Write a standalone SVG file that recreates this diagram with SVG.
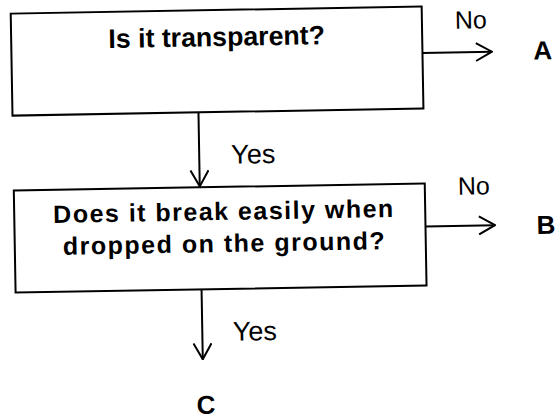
<svg xmlns="http://www.w3.org/2000/svg" width="556" height="419" viewBox="0 0 556 419">
  <style>
    .box { fill: #ffffff; stroke: #000000; stroke-width: 2; }
    .q { font-family: "Liberation Sans", Arial, sans-serif; font-weight: bold; font-size: 25px; fill: #000000; text-anchor: middle; }
    .lbl { font-family: "Liberation Sans", Arial, sans-serif; font-size: 27px; fill: #000000; }
    .out { font-family: "Liberation Sans", Arial, sans-serif; font-weight: bold; font-size: 26px; fill: #000000; }
    .conn { stroke: #000000; stroke-width: 2; fill: none; }
  </style>
  <defs>
    <marker id="chev" viewBox="0 0 18 20" refX="17" refY="10" markerWidth="18" markerHeight="20" markerUnits="userSpaceOnUse" orient="auto">
      <path d="M1,1 L17,10 L1,19" fill="none" stroke="#000000" stroke-width="2"/>
    </marker>
  </defs>
  <rect width="556" height="419" fill="#ffffff"/>
  <g transform="rotate(-1 220 200)">
    <g id="connectors">
      <line class="conn" x1="425" y1="56.5" x2="494.5" y2="56.5" marker-end="url(#chev)"/>
      <line class="conn" x1="200" y1="112" x2="200" y2="186" marker-end="url(#chev)"/>
      <line class="conn" x1="425" y1="230" x2="494.5" y2="230" marker-end="url(#chev)"/>
      <line class="conn" x1="200" y1="289" x2="200" y2="359" marker-end="url(#chev)"/>
      <text class="lbl" x="458" y="33" style="font-size:25px">No</text>
      <text class="lbl" x="232" y="164">Yes</text>
      <text class="lbl" x="458" y="199" style="font-size:25px">No</text>
      <text class="lbl" x="230.5" y="341">Yes</text>
    </g>
    <g id="q1">
      <rect class="box" x="14" y="10" width="411" height="102"/>
      <text class="q" x="219.5" y="46" style="font-size:26.7px">Is it transparent?</text>
    </g>
    <g id="q2">
      <rect class="box" x="14" y="187" width="411" height="102"/>
      <text class="q" x="223" y="220" textLength="340">Does it break easily when</text>
      <text class="q" x="223" y="252" textLength="322">dropped on the ground?</text>
    </g>
    <g id="outA"><text class="out" x="536" y="65">A</text></g>
    <g id="outB"><text class="out" x="536" y="239.5">B</text></g>
    <g id="outC"><text class="out" x="193" y="413.5">C</text></g>
  </g>
</svg>
